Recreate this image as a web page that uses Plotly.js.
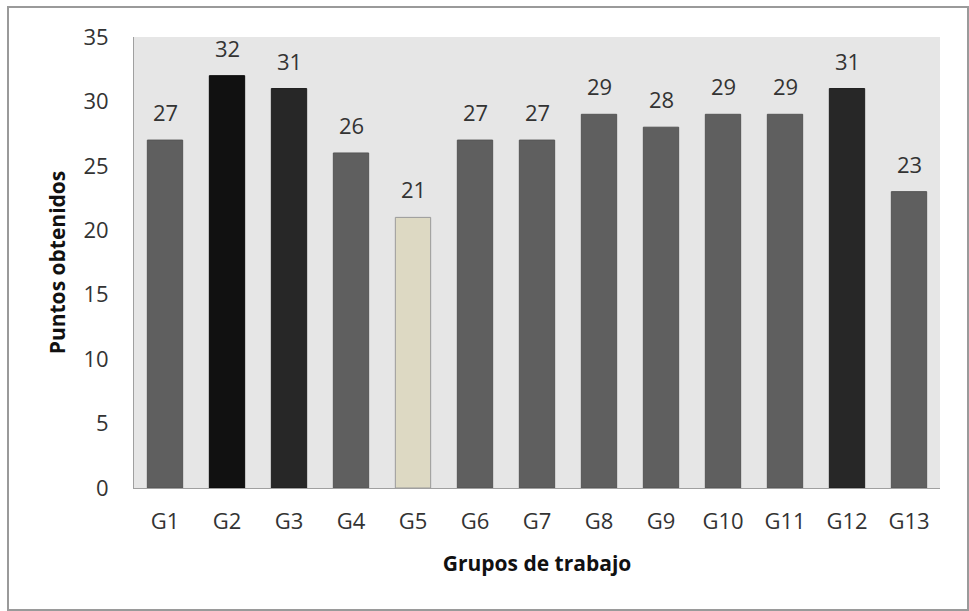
<!DOCTYPE html>
<html>
<head>
<meta charset="utf-8">
<script src="https://cdn.plot.ly/plotly-3.0.1.min.js"></script>
<style>
html,body{margin:0;padding:0;background:#fff;}
#wrap{position:relative;width:969px;height:611px;}
#chart{position:absolute;left:0;top:0;width:969px;height:611px;}
#frame{position:absolute;left:7px;top:6px;width:958px;height:601px;border:2px solid #9a9a9a;pointer-events:none;}
</style>
</head>
<body>
<div id="wrap"><div id="chart"></div><div id="frame"></div></div>
<script>
const categories = ["G1","G2","G3","G4","G5","G6","G7","G8","G9","G10","G11","G12","G13"];
const puntos = [27,32,31,26,21,27,27,29,28,29,29,31,23];
const barColors = ["#5f5f5f","#111111","#272727","#5f5f5f","#ddd9c3","#5f5f5f","#5f5f5f","#5f5f5f","#5f5f5f","#5f5f5f","#5f5f5f","#272727","#5f5f5f"];
const lineColors = ["#555555","#0a0a0a","#1f1f1f","#555555","#9a9a9a","#555555","#555555","#555555","#555555","#555555","#555555","#1f1f1f","#555555"];
const yTicks = [0,5,10,15,20,25,30,35];

const font = "Open Sans, Liberation Sans, sans-serif";

const trace = {
  type: "bar",
  x: categories,
  y: puntos,
  width: 0.57,
  marker: {color: barColors, line: {color: lineColors, width: 1}},
  hoverinfo: "x+y"
};

const annotations = categories.map((c, i) => ({
  x: c, y: puntos[i], xref: "x", yref: "y",
  text: String(puntos[i]), showarrow: false,
  yanchor: "bottom", yshift: 11,
  font: {family: font, size: 22, color: "#333333"}
}));

const layout = {
  width: 969, height: 611,
  margin: {l: 134, r: 29, t: 37, b: 123},
  paper_bgcolor: "#ffffff",
  plot_bgcolor: "#e6e6e6",
  showlegend: false,
  xaxis: {
    type: "category",
    showgrid: false,
    showline: true, linecolor: "#a0a0a0", linewidth: 1,
    ticks: "", ticklabelstandoff: 14,
    tickfont: {family: font, size: 22, color: "#333333"},
    title: {text: "Grupos de trabajo", standoff: 21,
      font: {family: font, size: 21, color: "#111111", weight: "bold"}}
  },
  yaxis: {
    range: [0, 35],
    tickvals: yTicks,
    showgrid: false, zeroline: false,
    showline: true, linecolor: "#a0a0a0", linewidth: 1,
    ticks: "", ticklabelstandoff: 20,
    tickfont: {family: font, size: 22, color: "#333333"},
    title: {text: "Puntos obtenidos", standoff: 12,
      font: {family: font, size: 21, color: "#111111", weight: "bold"}}
  },
  annotations: annotations
};

Plotly.newPlot("chart", [trace], layout, {displayModeBar: false, staticPlot: true});
</script>
</body>
</html>
